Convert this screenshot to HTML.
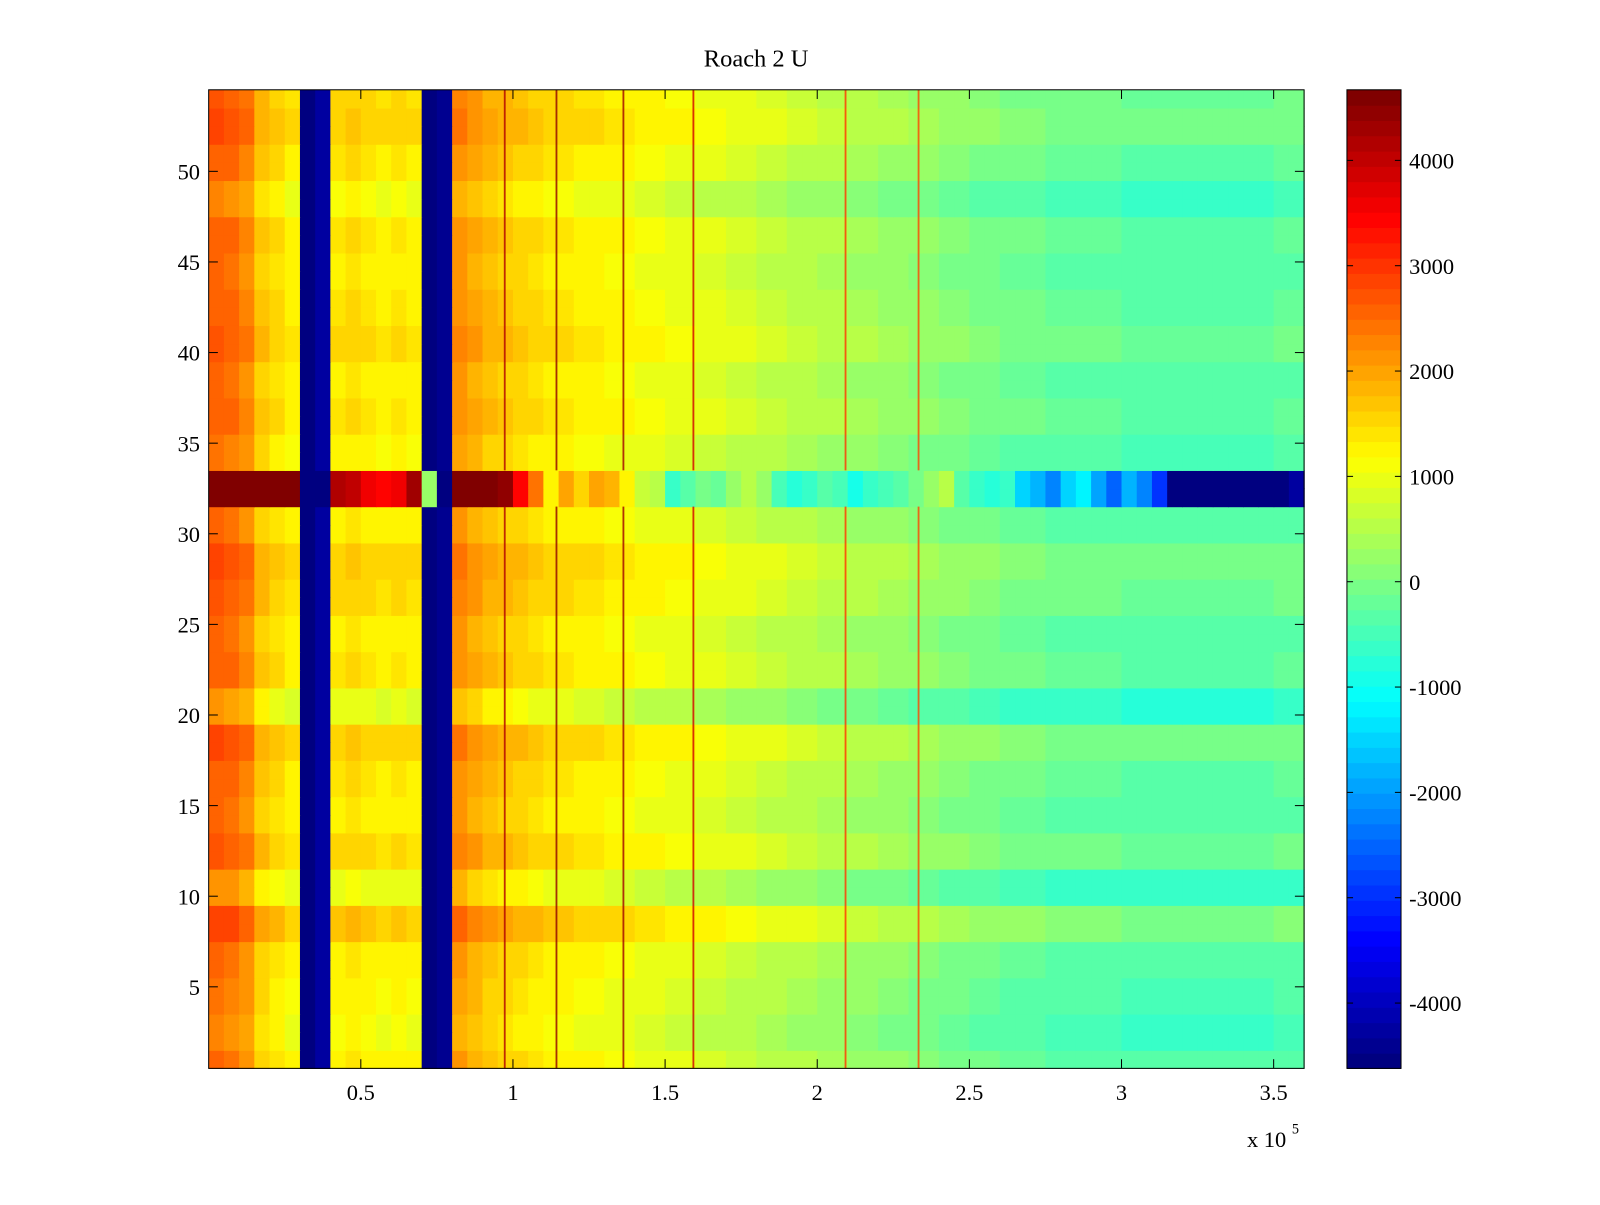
<!DOCTYPE html>
<html><head><meta charset="utf-8"><style>
body{margin:0;background:#fff;}
svg text{font-family:"Liberation Serif",serif;fill:#000;}
</style></head><body>
<svg id="chart" width="1600" height="1200" viewBox="0 0 1568 1176" xmlns="http://www.w3.org/2000/svg">
<rect width="1568" height="1176" fill="#fff"/>
<text x="741" y="65" font-size="24" text-anchor="middle">Roach 2 U</text>
<g id="cells"></g>
<g id="axes"></g>
<g id="cbar"></g>
</svg>
<script>
// column base values, bins of 5000 from 0 to 360000
const colBase=[2500,2400,2200,1600,1400,1200,-4500,-4300,1300,1400,1300,1200,1300,1200,-4500,-4400,
2100,1900,1700,1600,1500,1400,1300,1300,1200,1200,1100,1100,1000,1000,900,900,800,800,700,700,
600,600,500,500,400,400,300,300,200,200,100,100,0,0,-100,-100,-200,-200,-200,-300,-300,-300,-300,-300,
-400,-400,-400,-400,-400,-400,-400,-400,-400,-400,-300,-300];
// anomalous row 32-33
const specialRow=[4600,4600,4600,4600,4600,4600,-4500,-4500,4200,4000,3600,3400,3600,4300,300,-4500,
4600,4600,4600,4400,3400,2400,1200,2000,1500,2000,1800,1200,700,500,-600,-300,0,-200,200,600,
300,-500,-800,-700,-300,-500,-900,-600,-500,-400,0,300,600,-300,-600,-800,-700,-1500,-1800,-2200,
-1500,-1200,-2000,-2500,-1800,-2200,-3000,-4500,-4500,-4500,-4500,-4500,-4500,-4500,-4500,-4200];
// per-row offsets, rows 1..54
const rowOffset=[0,-200,-200,-100,-100,0,0,400,400,-300,-300,200,200,0,0,100,100,300,300,-400,-400,
100,100,0,0,200,200,300,300,0,0,0,0,-100,-100,100,100,0,0,200,200,100,100,0,0,100,100,-200,-200,100,100,300,300,200];
const specialRows=[32,33];
// thin dark-red vertical stripes (x positions in data units)
const stripeX=[97000,114000,136000,159000,209000,233000];
const stripeVal=[4200,4500,4300,3800,3000,2800];
const cbTicks=[4000,3000,2000,1000,0,-1000,-2000,-3000,-4000];
const xTicks=[0.5,1,1.5,2,2.5,3,3.5];
const yTicks=[5,10,15,20,25,30,35,40,45,50];

const X0=204.5,X1=1278,Y0=88,Y1=1047,XMAX=360000,YMIN=0.5,YMAX=54.5,VMIN=-4620,VMAX=4670;
const sx=v=>X0+(v/XMAX)*(X1-X0);
const sy=v=>Y1-(v-YMIN)/(YMAX-YMIN)*(Y1-Y0);
function jet(t){t=Math.max(0,Math.min(1,t));t=Math.floor(t*63.999)/63;
 const r=Math.max(0,Math.min(1,Math.min(4*t-1.5,-4*t+4.5)));
 const g=Math.max(0,Math.min(1,Math.min(4*t-0.5,-4*t+3.5)));
 const b=Math.max(0,Math.min(1,Math.min(4*t+0.5,-4*t+2.5)));
 return `rgb(${Math.round(r*255)},${Math.round(g*255)},${Math.round(b*255)})`;}
const col=v=>jet((v-VMIN)/(VMAX-VMIN));
const NS="http://www.w3.org/2000/svg";
function mk(tag,attrs,parent){const e=document.createElementNS(NS,tag);for(const k in attrs)e.setAttribute(k,attrs[k]);parent.appendChild(e);return e;}
const cells=document.getElementById('cells');
const bw=5000;
for(let r=1;r<=54;r++){
 const yt=sy(r+0.5),yb=sy(r-0.5);
 const sp=specialRows.includes(r);
 for(let c=0;c<colBase.length;c++){
  const blue=colBase[c]<-4000;
  const v=sp?specialRow[c]:(blue?colBase[c]:colBase[c]+rowOffset[r-1]);
  const e=mk('rect',{x:sx(c*bw),y:yt,width:sx((c+1)*bw)-sx(c*bw)+0.6,height:yb-yt+0.6,fill:col(v)},cells);
  
  
 }
}
stripeX.forEach((x,i)=>{
 const e=mk('rect',{x:sx(x),y:Y0,width:1.8,height:sy(33.5)-Y0,fill:col(stripeVal[i]),opacity:0.8},cells);
 
 
 const e2=mk('rect',{x:sx(x),y:sy(31.5),width:1.8,height:Y1-sy(31.5),fill:col(stripeVal[i]),opacity:0.8},cells);
 
 
});
const axes=document.getElementById('axes');
mk('rect',{x:X0,y:Y0,width:X1-X0,height:Y1-Y0,fill:'none',stroke:'#000','stroke-width':1},axes);
xTicks.forEach(t=>{const x=sx(t*1e5);
 mk('line',{x1:x,x2:x,y1:Y1,y2:Y1-9,stroke:'#000'},axes);mk('line',{x1:x,x2:x,y1:Y0,y2:Y0+9,stroke:'#000'},axes);
 const e=mk('text',{x:x,y:1078,'font-size':22,'text-anchor':'middle'},axes);e.textContent=t;
 });
yTicks.forEach(t=>{const y=sy(t);
 mk('line',{x1:X0,x2:X0+9,y1:y,y2:y,stroke:'#000'},axes);mk('line',{x1:X1,x2:X1-9,y1:y,y2:y,stroke:'#000'},axes);
 const e=mk('text',{x:196,y:y+8,'font-size':22,'text-anchor':'end'},axes);e.textContent=t;
 });
const ex=mk('text',{x:1222,y:1124,'font-size':22},axes);ex.textContent='x 10';

const ex2=mk('text',{x:1266,y:1111,'font-size':14},axes);ex2.textContent='5';

// colorbar
const cb=document.getElementById('cbar');const CX=1320,CW=53;
const cy=v=>Y1-(v-VMIN)/(VMAX-VMIN)*(Y1-Y0);
for(let i=0;i<64;i++){const a=VMIN+(VMAX-VMIN)*i/64,b=VMIN+(VMAX-VMIN)*(i+1)/64;
 const e=mk('rect',{x:CX,y:cy(b),width:CW,height:cy(a)-cy(b)+0.6,fill:jet((i+0.5)/64)},cb);
 }
mk('rect',{x:CX,y:Y0,width:CW,height:Y1-Y0,fill:'none',stroke:'#000'},cb);
cbTicks.forEach(t=>{const y=cy(t);
 mk('line',{x1:CX,x2:CX+6,y1:y,y2:y,stroke:'#000'},cb);mk('line',{x1:CX+CW,x2:CX+CW-6,y1:y,y2:y,stroke:'#000'},cb);
 const e=mk('text',{x:1381,y:y+8,'font-size':22},cb);e.textContent=t;
 });
</script>
</body></html>
